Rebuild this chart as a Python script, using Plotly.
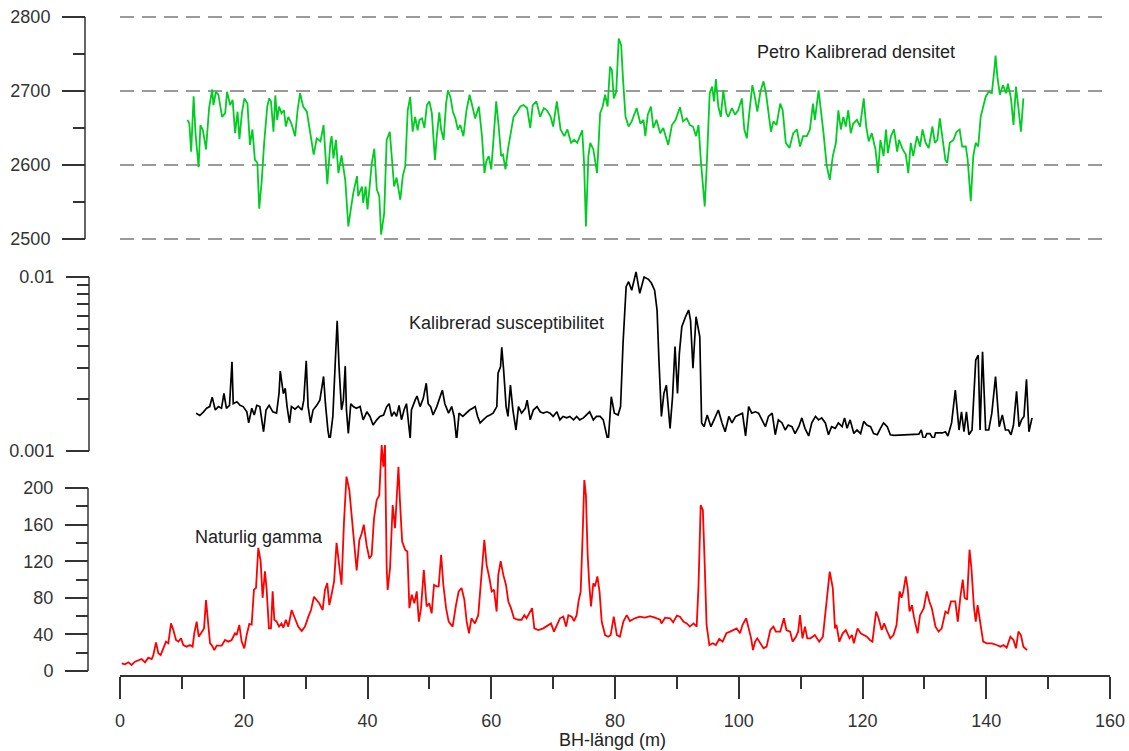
import plotly.graph_objects as go

# ---------------- data ----------------
dens_x = [10.9, 11.2, 11.5, 11.9, 12.2, 12.7, 13.0, 13.4, 13.9, 14.4, 14.9, 15.1, 15.5, 15.9, 16.5, 17.0, 17.3, 17.8,
          18.2, 18.6, 19.0, 19.3, 19.7, 20.1, 20.6, 21.0, 21.4, 21.8, 22.2, 22.5, 22.9, 23.3, 23.8, 24.1, 24.4, 24.8,
          25.1, 25.4, 25.7, 26.1, 26.5, 26.8, 27.2, 27.7, 28.3, 28.7, 29.1, 29.6, 30.2, 30.7, 31.3, 31.8, 32.4, 32.9,
          33.3, 33.5, 34.0, 34.2, 34.5, 34.9, 35.3, 35.8, 36.4, 36.9, 37.3, 37.7, 38.3, 38.5, 39.1, 39.3, 39.7, 40.0,
          40.4, 40.7, 41.1, 41.5, 41.9, 42.2, 42.7, 43.1, 43.6, 44.0, 44.3, 44.7, 45.3, 45.7, 46.1, 46.5, 46.9, 47.3,
          47.7, 48.1, 48.4, 48.8, 49.2, 49.6, 50.0, 50.4, 50.9, 51.2, 51.6, 51.9, 52.3, 52.7, 53.0, 53.4, 53.8, 54.2,
          54.6, 55.0, 55.5, 56.0, 56.5, 56.9, 57.4, 58.0, 58.5, 58.9, 59.2, 59.6, 60.0, 60.4, 60.8, 61.2, 61.6, 61.9,
          62.3, 62.7, 63.1, 63.6, 64.2, 64.7, 65.2, 65.8, 66.3, 66.7, 67.3, 67.9, 68.5, 69.0, 69.6, 70.0, 70.6, 71.2,
          71.8, 72.3, 72.9, 73.4, 73.9, 74.5, 74.7, 75.0, 75.3, 75.7, 76.0, 76.5, 77.1, 77.6, 78.0, 78.4, 78.8, 79.2,
          79.5, 79.8, 80.2, 80.6, 81.0, 81.3, 81.7, 82.2, 82.7, 83.5, 84.1, 84.6, 84.9, 85.3, 85.8, 86.2, 86.7, 87.3,
          87.8, 88.6, 89.2, 89.8, 90.5, 91.0, 91.6, 92.1, 92.6, 93.1, 93.5, 93.9, 94.5, 94.8, 95.3, 95.7, 96.0, 96.3,
          96.7, 97.1, 97.5, 98.0, 98.3, 98.9, 99.4, 99.9, 100.5, 100.9, 101.3, 101.7, 102.2, 102.6, 103.0, 103.5,
          104.0, 104.4, 104.8, 105.2, 105.6, 106.1, 106.7, 107.1, 107.6, 108.2, 108.8, 109.4, 109.9, 110.4, 111.0,
          111.5, 112.0, 112.3, 112.9, 113.3, 113.7, 114.2, 114.7, 115.2, 115.7, 116.1, 116.5, 116.9, 117.3, 117.7,
          118.1, 118.5, 119.1, 119.6, 120.2, 120.6, 121.0, 121.5, 122.1, 122.5, 122.9, 123.4, 123.8, 124.1, 124.6,
          125.1, 125.6, 125.9, 126.5, 127.0, 127.4, 127.8, 128.2, 128.8, 129.3, 129.7, 130.2, 130.7, 131.3, 131.7,
          132.1, 132.5, 132.9, 133.4, 133.7, 134.1, 134.7, 135.2, 135.7, 136.1, 136.7, 137.0, 137.5, 137.9, 138.3,
          138.7, 139.1, 139.5, 139.9, 140.4, 140.9, 141.3, 141.5, 141.8, 142.2, 142.7, 143.2, 143.5, 144.0, 144.4,
          144.8, 145.2, 145.6, 146.0]
dens_y = [2661, 2656, 2618, 2693, 2643, 2597, 2654, 2647, 2621, 2677, 2702, 2681, 2699, 2695, 2665, 2670, 2699, 2681,
          2688, 2643, 2672, 2635, 2670, 2690, 2683, 2627, 2648, 2607, 2603, 2541, 2578, 2630, 2679, 2690, 2686, 2645,
          2694, 2661, 2679, 2670, 2674, 2652, 2665, 2656, 2639, 2674, 2697, 2679, 2672, 2648, 2614, 2636, 2632, 2654,
          2603, 2574, 2630, 2639, 2609, 2634, 2589, 2613, 2580, 2517, 2540, 2562, 2585, 2558, 2571, 2549, 2571, 2540,
          2576, 2603, 2622, 2567, 2558, 2506, 2535, 2634, 2645, 2603, 2571, 2583, 2553, 2585, 2598, 2674, 2692, 2645,
          2665, 2647, 2661, 2663, 2650, 2681, 2686, 2670, 2607, 2639, 2671, 2648, 2634, 2683, 2701, 2692, 2672, 2663,
          2648, 2654, 2639, 2674, 2695, 2681, 2663, 2679, 2639, 2589, 2605, 2612, 2594, 2639, 2686, 2652, 2612, 2614,
          2594, 2621, 2639, 2665, 2672, 2679, 2681, 2677, 2650, 2681, 2686, 2665, 2677, 2674, 2665, 2652, 2686, 2648,
          2639, 2648, 2630, 2634, 2630, 2643, 2647, 2603, 2517, 2612, 2630, 2621, 2589, 2670, 2679, 2695, 2679, 2733,
          2728, 2690, 2699, 2771, 2762, 2715, 2665, 2652, 2659, 2677, 2656, 2661, 2639, 2668, 2679, 2650, 2661, 2643,
          2650, 2627, 2654, 2661, 2678, 2659, 2663, 2654, 2652, 2639, 2654, 2603, 2544, 2594, 2697, 2706, 2686, 2716,
          2679, 2665, 2701, 2670, 2665, 2677, 2668, 2674, 2690, 2648, 2636, 2670, 2708, 2692, 2672, 2699,
          2713, 2697, 2674, 2645, 2659, 2654, 2683, 2674, 2630, 2623, 2643, 2648, 2625, 2639, 2639,
          2648, 2683, 2661, 2701, 2674, 2643, 2600, 2580, 2612, 2630, 2674, 2648, 2665, 2652, 2674,
          2643, 2656, 2661, 2652, 2690, 2652, 2632, 2643, 2621, 2589, 2634, 2612, 2648, 2616, 2639,
          2648, 2618, 2634, 2621, 2614, 2589, 2630, 2612, 2639, 2625, 2648, 2630, 2623, 2652, 2630,
          2634, 2663, 2639, 2607, 2603, 2630, 2634, 2645, 2648, 2625, 2625, 2607, 2551, 2612, 2630,
          2625, 2665, 2677, 2692, 2699, 2697, 2728, 2748, 2719, 2695, 2708, 2697, 2710, 2690, 2654,
          2706, 2677, 2645, 2690]

sus_x = [12.3, 12.9, 13.5, 14.0, 14.5, 14.9, 15.4, 15.9, 16.4, 16.8, 17.2, 17.7, 18.1, 18.3, 18.9, 19.4, 19.9, 20.5,
         20.8, 21.3, 21.7, 22.1, 22.6, 23.2, 23.6, 24.1, 24.7, 25.3, 25.7, 25.9, 26.4, 26.7, 27.0, 27.4, 27.7, 28.3,
         28.8, 29.4, 29.7, 30.1, 30.4, 30.8, 31.2, 31.8, 32.3, 32.9, 33.2, 33.6, 33.9, 34.4, 34.8, 35.1, 35.4, 35.8,
         36.1, 36.4, 36.6, 36.9, 37.3, 37.7, 38.2, 38.8, 39.3, 39.9, 40.4, 40.9, 41.5, 42.0, 42.6, 43.1, 43.5, 43.9,
         44.3, 44.7, 45.1, 45.5, 45.9, 46.3, 46.9, 47.1, 47.7, 48.0, 48.5, 49.0, 49.5, 49.8, 50.2, 50.6, 51.2, 51.7,
         52.1, 52.5, 53.1, 53.6, 54.0, 54.4, 54.8, 55.4, 55.9, 56.5, 57.0, 57.4, 57.8, 58.2, 58.7, 59.3, 59.8, 60.3,
         60.9, 61.1, 61.5, 61.7, 62.0, 62.4, 62.7, 63.1, 63.5, 64.0, 64.4, 64.9, 65.5, 65.8, 66.3, 66.8, 67.4, 67.9,
         68.4, 69.0, 69.5, 70.0, 70.6, 71.1, 71.6, 72.2, 72.7, 73.3, 73.8, 74.3, 74.9, 75.4, 75.9, 76.5, 77.0,
         77.6, 78.1, 78.9, 79.4, 79.9, 80.5, 80.9, 81.3, 81.8, 82.2, 82.7, 83.4, 84.0, 84.7, 85.4, 85.9, 86.4, 86.8,
         87.1, 87.5, 87.9, 88.3, 88.9, 89.3, 89.7, 90.1, 90.4, 90.8, 91.4, 91.9, 92.2, 92.6, 93.1, 93.7, 94.0, 94.4,
         94.9, 95.5, 96.0, 96.7, 97.3, 97.8, 98.4, 98.9, 99.5, 100.0, 100.6, 101.1, 101.6, 102.1, 102.7, 103.2, 103.8,
         104.3, 104.8, 105.4, 105.9, 106.4, 107.0, 107.5, 108.0, 108.6, 109.1, 109.7, 110.2, 110.7, 111.3, 111.8,
         112.4, 112.9, 113.4, 114.0, 114.5, 115.0, 115.6, 116.1, 116.7, 117.1, 117.5, 118.0, 118.6, 119.1, 119.7,
         120.2, 120.7, 121.3, 121.8, 122.4, 122.9, 123.4, 124.0, 124.5, 125.1, 129.1, 129.5, 129.9, 130.4, 130.9,
         131.5, 131.8, 132.9, 133.4, 133.8, 134.4, 135.0, 135.6, 136.0, 136.4, 136.8, 137.2, 137.7, 138.3, 138.7,
         139.0, 139.4, 139.9, 140.4, 140.9, 141.5, 142.1, 142.6, 143.1, 143.6, 144.0, 144.4, 144.9, 145.3, 145.7,
         146.1, 146.5, 146.9, 147.4]
sus_y = [0.00165, 0.00160, 0.00168, 0.00176, 0.00180, 0.00204, 0.00172, 0.00180, 0.00176, 0.00214, 0.00176, 0.00183,
         0.00326, 0.00187, 0.00192, 0.00183, 0.00180, 0.00168, 0.00145, 0.00176, 0.00161, 0.00183, 0.00180, 0.00129,
         0.00172, 0.00183, 0.00168, 0.00165, 0.00214, 0.00288, 0.00214, 0.00229, 0.00180, 0.00145, 0.00180, 0.00174,
         0.00181, 0.00172, 0.00196, 0.00330, 0.00180, 0.00145, 0.00172, 0.00183, 0.00196, 0.00268, 0.00187, 0.00132,
         0.00113, 0.00158, 0.00330, 0.00561, 0.00305, 0.00172, 0.00196, 0.00308, 0.00172, 0.00126, 0.00187, 0.00180,
         0.00176, 0.00180, 0.00151, 0.00168, 0.00158, 0.00141, 0.00151, 0.00158, 0.00161, 0.00180, 0.00187, 0.00158,
         0.00168, 0.00158, 0.00183, 0.00151, 0.00172, 0.00187, 0.00118, 0.00172, 0.00196, 0.00207, 0.00180, 0.00200,
         0.00245, 0.00187, 0.00180, 0.00161, 0.00180, 0.00207, 0.00224, 0.00187, 0.00165, 0.00180, 0.00158, 0.00115,
         0.00165, 0.00158, 0.00165, 0.00172, 0.00176, 0.00180, 0.00158, 0.00145, 0.00151, 0.00158, 0.00161, 0.00165,
         0.00180, 0.00280, 0.00305, 0.00394, 0.00292, 0.00180, 0.00158, 0.00239, 0.00172, 0.00132, 0.00180, 0.00165,
         0.00176, 0.00196, 0.00151, 0.00172, 0.00180, 0.00168, 0.00165, 0.00168, 0.00165, 0.00158, 0.00168, 0.00151,
         0.00158, 0.00155, 0.00158, 0.00151, 0.00158, 0.00151, 0.00155, 0.00161, 0.00168, 0.00151, 0.00158,
         0.00158, 0.00151, 0.00113, 0.00205, 0.00165, 0.00161, 0.00180, 0.00416, 0.00880, 0.00940, 0.00840, 0.01070,
         0.00806, 0.01000, 0.00970, 0.00920, 0.00840, 0.00646, 0.00333, 0.00158, 0.00214, 0.00239, 0.00135, 0.00205,
         0.00398, 0.00214, 0.00364, 0.00518, 0.00591, 0.00646, 0.00566, 0.00299, 0.00591, 0.00454, 0.00145, 0.00138,
         0.00161, 0.00138, 0.00151, 0.00172, 0.00145, 0.00129, 0.00158, 0.00145, 0.00158, 0.00161, 0.00165, 0.00122,
         0.00180, 0.00165, 0.00168, 0.00165, 0.00151, 0.00138, 0.00158, 0.00165, 0.00124, 0.00151, 0.00145, 0.00132,
         0.00141, 0.00138, 0.00126, 0.00138, 0.00155, 0.00135, 0.00122, 0.00145, 0.00158, 0.00151, 0.00155, 0.00145,
         0.00124, 0.00138, 0.00135, 0.00145, 0.00138, 0.00155, 0.00135, 0.00151, 0.00126, 0.00132, 0.00126, 0.00148,
         0.00141, 0.00138, 0.00126, 0.00124, 0.00135, 0.00145, 0.00138, 0.00124, 0.00123, 0.00125, 0.00132, 0.00115,
         0.00126, 0.00126, 0.00116, 0.00127, 0.00127, 0.00129, 0.00122, 0.00145, 0.00224, 0.00132, 0.00168, 0.00129,
         0.00168, 0.00124, 0.00132, 0.00333, 0.00356, 0.00132, 0.00372, 0.00132, 0.00132, 0.00165, 0.00268, 0.00138,
         0.00161, 0.00132, 0.00132, 0.00124, 0.00141, 0.00220, 0.00138, 0.00151, 0.00158, 0.00258, 0.00129, 0.00155]

gam_x = [0.27, 0.8, 1.35, 1.88, 2.42, 2.96, 3.5, 4.04, 4.58, 5.12, 5.39, 5.82, 6.2, 6.57, 7.0, 7.43, 7.81, 8.24, 8.62,
         9.05, 9.43, 9.86, 10.23, 10.77, 11.31, 11.74, 12.0, 12.39, 12.72, 13.2, 13.58, 13.9, 14.28, 14.55, 14.82,
         15.25, 15.62, 16.43, 16.97, 17.51, 18.05, 18.58, 18.85, 19.28, 19.66, 20.09, 20.47, 20.9, 21.28, 21.65, 21.98,
         22.35, 22.73, 23.05, 23.43, 23.7, 24.07, 24.4, 24.67, 24.94, 25.32, 25.7, 26.1, 26.4, 26.8, 27.2, 27.74,
         28.28, 28.8, 29.36, 29.9, 30.44, 30.87, 31.35, 31.78, 32.2, 32.75, 33.13, 33.5, 33.83, 34.2, 34.6, 35.0,
         35.4, 35.8, 36.2, 36.6, 37.06, 37.44, 37.8, 38.25, 38.68, 39.06, 39.4, 39.87, 40.3, 40.67, 41.05, 41.48,
         41.9, 42.29, 42.56, 42.83, 43.1, 43.26, 43.64, 44.07, 44.45, 45.0, 45.25, 45.6, 46.1, 46.44, 46.77, 47.15,
         47.57, 47.96, 48.3, 48.65, 49.1, 49.56, 49.98, 50.37, 50.75, 51.18, 51.5, 51.9, 52.26, 52.7, 53.12, 53.76,
         54.3, 54.74, 55.2, 55.65, 56.03, 56.4, 56.8, 57.36, 57.9, 58.3, 58.6, 58.88, 59.25, 59.7, 60.07, 60.44,
         60.87, 61.14, 61.52, 61.95, 62.38, 62.76, 63.19, 63.68, 64.38, 64.9, 65.35, 65.7, 66.15, 66.6, 66.96, 67.6,
         68.4, 69.2, 69.65, 70.14, 70.57, 71.1, 71.65, 72.1, 72.46, 73.0, 73.37, 73.8, 74.1, 74.45, 74.77, 75.04,
         75.3, 75.58, 75.85, 76.12, 76.5, 76.77, 77.15, 77.5, 77.85, 78.4, 78.9, 79.3, 79.8, 80.3, 80.8, 81.35, 81.9,
         82.4, 83.2, 84.0, 84.85, 85.65, 86.45, 87.3, 87.5, 88.1, 88.9, 89.4, 90.0, 90.5, 91.05, 91.6, 92.1, 92.7,
         93.2, 93.5, 93.85, 94.2, 94.5, 94.8, 95.25, 95.8, 96.3, 96.85, 97.4, 98.0, 98.6, 99.1, 99.66, 100.2, 100.6,
         101.2, 101.6, 102.0, 102.3, 102.65, 103.0, 103.5, 104.0, 104.5, 105.1, 105.6, 106.0, 106.7, 107.3, 107.7,
         108.3, 108.7, 109.25, 109.6, 109.9, 110.3, 110.7, 111.08, 111.6, 112.3, 113.0, 113.6, 114.2, 114.7, 115.2,
         115.55, 115.8, 116.25, 116.8, 117.3, 117.9, 118.3, 118.6, 119.2, 119.7, 120.25, 120.7, 121.2, 121.6, 122.2,
         122.6, 123.1, 123.5, 123.9, 124.5, 125.0, 125.5, 126.0, 126.3, 126.6, 127.0, 127.3, 127.6, 128.0, 128.3,
         128.9, 129.3, 129.9, 130.4, 130.8, 131.2, 131.8, 132.3, 132.8, 133.4, 133.8, 134.3, 135.0, 135.4, 135.8,
         136.2, 136.5, 136.9, 137.3, 137.6, 138.0, 138.3, 138.6, 138.9, 139.5, 140.1, 140.9, 141.7, 142.3, 142.8,
         143.3, 143.9, 144.4, 144.8, 145.2, 145.6, 146.0, 146.6]
gam_y = [8.4, 7.3, 9.5, 6.6, 10.2, 12.0, 13.1, 9.5, 14.6, 13.1, 17.5, 31.3, 19.3, 17.5, 24.8, 32.1, 30.3, 52.1, 44.8,
         33.9, 32.1, 35.7, 28.4, 26.6, 28.4, 26.6, 41.2, 53.9, 37.5, 43.0, 46.6, 77.6, 53.9, 30.3, 28.4,
         22.9, 27.7, 27.7, 33.9, 32.1, 33.9, 41.2, 39.3, 50.3, 32.1, 24.8, 39.3, 51.4, 50.7, 88.9, 90.7,
         134.6, 120.0, 80.0, 109.0, 88.9, 46.6, 46.6, 87.1, 56.0, 54.0, 48.5, 52.0, 47.4, 56.0, 48.5, 66.7,
         57.6, 48.5, 43.7, 48.5, 59.4, 66.7, 81.2, 77.6, 74.0, 66.7, 88.9, 96.0, 72.0, 83.8, 98.0, 140.0,
         116.0, 94.3, 163.0, 212.4, 197.8, 172.0, 148.5, 110.0, 143.0, 150.3, 160.0, 137.0, 123.0, 126.6, 166.7, 186.7,
         192.0, 247.0, 223.3, 247.0, 112.2, 88.5, 112.2, 181.4, 156.0, 223.3, 185.0, 141.5, 132.4, 130.6, 68.7, 83.3,
         74.0, 87.0, 54.0, 68.7, 110.5, 70.5, 74.0, 63.0, 94.0, 92.5, 92.5, 127.0, 94.0, 68.7, 54.0, 48.5,
         72.0, 87.0, 90.7, 78.0, 54.0, 41.2, 57.6, 52.0, 61.0, 90.7, 120.0, 143.4, 116.0, 101.6, 87.0, 88.9,
         65.0, 105.0, 120.0, 105.0, 94.0, 76.0, 68.7, 57.6, 56.0, 56.0, 61.0, 57.6, 63.0, 68.7, 46.6, 44.8,
         46.6, 50.3, 52.0, 43.0, 50.3, 57.6, 59.4, 48.5, 61.0, 59.4, 54.6, 61.0, 75.8, 86.7, 148.6, 208.7,
         192.0, 127.0, 94.0, 70.5, 95.9, 92.5, 103.4, 86.7, 54.0, 39.3, 37.5, 39.3, 59.4, 39.3, 37.5, 54.0, 61.0,
         54.6, 57.6, 59.4, 58.3, 60.0, 58.3, 56.0, 52.0, 58.3, 57.6, 53.2, 60.5, 59.4, 54.0, 52.0, 48.5, 52.0,
         48.5, 94.0, 181.4, 176.0, 116.0, 50.3, 28.4, 30.3, 28.4, 35.0, 32.1, 41.2, 43.0, 44.8, 46.6, 41.2, 50.3,
         57.6, 46.6, 35.7, 22.9, 32.1, 35.7, 30.3, 24.8, 26.6, 44.8, 48.5, 43.0, 43.0, 57.6, 44.8,
         43.0, 32.1, 37.5, 43.0, 61.0, 35.7, 48.5, 35.7, 35.7, 39.3, 32.1, 37.5, 75.8, 108.6, 90.7,
         46.6, 50.3, 32.1, 41.2, 44.8, 35.7, 39.3, 30.3, 46.6, 41.2, 39.3, 37.5, 33.9, 32.1, 65.0,
         57.6, 44.8, 52.0, 44.8, 35.7, 39.3, 50.3, 87.0, 80.0, 87.0, 103.4, 90.7, 65.0, 72.0, 59.4,
         41.2, 61.0, 68.7, 87.0, 76.0, 68.7, 48.5, 43.0, 46.6, 65.0, 63.0, 76.0, 76.0, 54.0, 80.0,
         100.0, 80.0, 78.0, 132.6, 112.6, 70.5, 54.0, 72.0, 59.4, 32.1, 30.3, 30.3, 28.4, 26.6, 28.4,
         25.5, 37.5, 33.9, 24.8, 43.0, 39.3, 26.6, 22.9]

x_ticks = [0, 20, 40, 60, 80, 100, 120, 140, 160]
dens_ticks = [2500, 2600, 2700, 2800]
sus_ticks = [0.001, 0.01]
sus_ticktext = ["0.001", "0.01"]
gam_ticks = [0, 40, 80, 120, 160, 200]

labels = ["Petro Kalibrerad densitet", "Kalibrerad susceptibilitet", "Naturlig gamma"]
x_title = "BH-längd (m)"

# ---------------- layout helpers (pixel geometry of the reference) ----------------
W, H = 1129, 751
def px(x):
    return x / W
def py(y):
    return 1 - y / H

FONT = "Liberation Sans, Arial, sans-serif"
AX = "#333333"
TXT = "#222222"
FS = 18

fig = go.Figure()
fig.add_trace(go.Scatter(x=dens_x, y=dens_y, mode="lines", xaxis="x", yaxis="y",
                         line=dict(color="#00cc22", width=1.8), showlegend=False))
fig.add_trace(go.Scatter(x=sus_x, y=sus_y, mode="lines", xaxis="x", yaxis="y2",
                         line=dict(color="#000000", width=1.7), showlegend=False))
fig.add_trace(go.Scatter(x=gam_x, y=gam_y, mode="lines", xaxis="x", yaxis="y3",
                         line=dict(color="#ff0000", width=1.8), showlegend=False))

# top axis: 2500 at py 239, 2800 at py 17 (0.74 px/unit); padded 3 px each side so edge gridlines show
d_ppu = (239 - 17) / 300
d_pad = 3 / d_ppu
# middle axis: 0.001 at py 451, 0.01 at py 277 -> 174 px / decade, extended up to py 265
sus_top = -2 + (277 - 265) / 174
# bottom axis: 0 at py 671, 200 at py 488; extended up to py 438
gam_top = (671 - 438) * 200 / (671 - 488)

common_y = dict(anchor="free", ticks="outside", ticklen=23, tickwidth=1.5, tickcolor=AX,
                tickfont=dict(family=FONT, size=FS, color=AX), ticklabelstandoff=8,
                zeroline=False, fixedrange=True, automargin=False, showline=False)

axis_line = dict(color=AX, width=1.5)

fig.update_layout(
    template="none",
    width=W, height=H,
    margin=dict(l=0, r=0, t=0, b=0, pad=0, autoexpand=False),
    paper_bgcolor="white", plot_bgcolor="white",
    font=dict(family=FONT, size=FS, color=TXT),
    showlegend=False,
    xaxis=dict(domain=[px(120), px(1110)], range=[0, 160], anchor="free", position=py(676),
               showline=True, linecolor=AX, linewidth=1.5, showgrid=False, zeroline=False,
               automargin=False, fixedrange=True,
               tickmode="array", tickvals=x_ticks, ticks="outside", ticklen=22, tickwidth=1.5,
               tickcolor=AX, tickfont=dict(family=FONT, size=FS, color=AX), ticklabelstandoff=7,
               minor=dict(tickmode="array", tickvals=[10, 30, 50, 70, 90, 110, 130, 150],
                          ticks="outside", ticklen=12, tickwidth=1.5, tickcolor=AX)),
    yaxis=dict(domain=[py(239 + 3), py(17 - 3)], range=[2500 - d_pad, 2800 + d_pad], position=px(85),
               tickmode="array", tickvals=dens_ticks,
               showgrid=True, gridcolor="#9a9a9a", gridwidth=1.5, griddash="14px,8px",
               minor=dict(tickmode="array", tickvals=[2550, 2650, 2750], ticks="outside",
                          ticklen=12, tickwidth=1.5, tickcolor=AX),
               **common_y),
    yaxis2=dict(domain=[py(451), py(265)], type="log", range=[-3, sus_top], position=px(89),
                tickmode="array", tickvals=sus_ticks, ticktext=sus_ticktext,
                showgrid=False,
                minor=dict(tickmode="array", tickvals=[0.002, 0.003, 0.004, 0.005, 0.006, 0.007, 0.008, 0.009],
                           ticks="outside", ticklen=12, tickwidth=1.5, tickcolor=AX),
                **common_y),
    yaxis3=dict(domain=[py(671), py(438)], range=[0, gam_top], position=px(88),
                tickmode="array", tickvals=gam_ticks, showgrid=False,
                minor=dict(tickmode="array", tickvals=[20, 60, 100, 140, 180], ticks="outside",
                           ticklen=12, tickwidth=1.5, tickcolor=AX),
                **common_y),
    shapes=[
        dict(type="line", xref="paper", yref="y", x0=px(85), x1=px(85), y0=2500, y1=2800, line=axis_line),
        dict(type="line", xref="paper", yref="paper", x0=px(89), x1=px(89), y0=py(451), y1=py(277),
             line=axis_line),
        dict(type="line", xref="paper", yref="y3", x0=px(88), x1=px(88), y0=0, y1=200, line=axis_line),
    ],
    annotations=[
        dict(text=labels[0], xref="paper", yref="paper", x=px(755), y=py(52), xanchor="left",
             yanchor="middle", showarrow=False, font=dict(family=FONT, size=FS, color=TXT)),
        dict(text=labels[1], xref="paper", yref="paper", x=px(407), y=py(323), xanchor="left",
             yanchor="middle", showarrow=False, font=dict(family=FONT, size=FS, color=TXT)),
        dict(text=labels[2], xref="paper", yref="paper", x=px(193), y=py(537), xanchor="left",
             yanchor="middle", showarrow=False, font=dict(family=FONT, size=FS, color=TXT)),
        # x-axis title
        dict(text=x_title, xref="paper", yref="paper", x=px(612), y=py(740), xanchor="center",
             yanchor="middle", showarrow=False, font=dict(family=FONT, size=FS, color=TXT)),
    ],
)

fig.write_html("out.html", config={"displayModeBar": False, "staticPlot": False},
               post_script="document.body.style.margin='0px';")
